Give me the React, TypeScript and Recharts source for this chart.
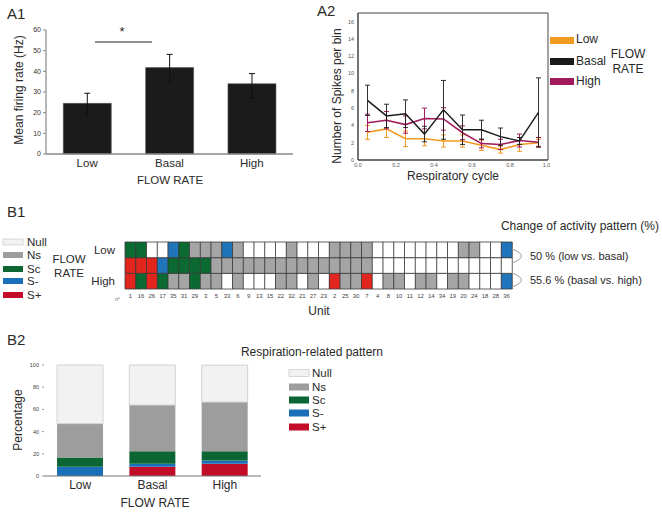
import React from 'react';
import { BarChart, Bar, XAxis, YAxis, ErrorBar, LineChart, Line, Cell, ReferenceArea } from 'recharts';

const FONT = '"Liberation Sans", Arial, Helvetica, sans-serif';
const TXT = '#2a2a2a';

// ---------- A1 ----------
const flowRates = ['Low', 'Basal', 'High'];
const meanRate = [24.5, 41.8, 34.0];
const meanRateErr: [number, number][] = [[6.0, 4.9], [7.1, 6.4], [6.8, 4.9]];
const a1Ticks = [0, 10, 20, 30, 40, 50, 60];

// ---------- A2 ----------
const cyclePos = [0.05, 0.15, 0.25, 0.35, 0.45, 0.55, 0.65, 0.75, 0.85, 0.95];
const lowSpikes = [3.2, 3.6, 2.45, 2.45, 2.2, 2.2, 1.7, 1.2, 1.8, 2.0];
const lowErr = [0.8, 1.0, 0.9, 0.8, 0.7, 0.7, 0.6, 0.4, 0.8, 0.4];
const basalSpikes = [6.9, 5.1, 5.35, 3.0, 5.8, 3.5, 3.5, 2.7, 2.2, 5.5];
const basalErr = [1.75, 1.35, 1.6, 0.9, 3.4, 1.7, 1.1, 1.0, 0.4, 4.0];
const highSpikes = [4.3, 4.6, 4.1, 4.8, 4.75, 3.15, 1.9, 1.8, 2.25, 2.05];
const highErr = [1.0, 1.0, 1.0, 1.2, 1.3, 0.8, 0.5, 0.6, 0.75, 0.55];
const a2YTicks = [0, 2, 4, 6, 8, 10, 12, 14, 16];
const a2XTicks = [0, 0.2, 0.4, 0.6, 0.8, 1.0];

// ---------- B1 ----------
const unitIds = [1, 16, 26, 17, 35, 31, 29, 3, 5, 33, 6, 9, 13, 15, 22, 32, 21, 27, 23, 2, 25, 30, 7, 4, 8, 10, 11, 12, 14, 34, 19, 20, 24, 18, 28, 36];
const lowPattern = ['Sc', 'Sc', 'Null', 'Null', 'S-', 'Sc', 'Ns', 'Ns', 'Ns', 'S-', 'Ns', 'Null', 'Null', 'Null', 'Null', 'Ns', 'Null', 'Null', 'Null', 'Ns', 'Ns', 'Ns', 'Ns', 'Null', 'Null', 'Null', 'Null', 'Null', 'Null', 'Null', 'Null', 'Ns', 'Ns', 'Null', 'Null', 'S-'];
const basalPattern = ['S+', 'S+', 'S+', 'S-', 'Sc', 'Sc', 'Sc', 'Sc', 'Ns', 'Ns', 'Ns', 'Ns', 'Ns', 'Ns', 'Ns', 'Ns', 'Ns', 'Ns', 'Ns', 'Ns', 'Ns', 'Ns', 'Ns', 'Null', 'Null', 'Null', 'Null', 'Null', 'Null', 'Null', 'Null', 'Null', 'Null', 'Null', 'Null', 'Null'];
const highPattern = ['S+', 'Sc', 'S+', 'Sc', 'Ns', 'Ns', 'Sc', 'Ns', 'Ns', 'Null', 'Ns', 'Null', 'Null', 'Null', 'Ns', 'Ns', 'Null', 'Ns', 'Null', 'S+', 'Ns', 'Ns', 'S+', 'Null', 'Ns', 'Ns', 'Null', 'Ns', 'Ns', 'Null', 'Ns', 'Ns', 'Null', 'Null', 'Null', 'S-'];
const rowLabels = ['High', 'Basal', 'Low'];

// ---------- B2 ----------
const pctSPlus = [0, 8.3, 11.1];
const pctSMinus = [8.3, 2.8, 2.8];
const pctSc = [8.3, 11.1, 8.3];
const pctNs = [30.6, 41.7, 44.4];
const pctNull = [52.8, 36.1, 33.3];
const b2Ticks = [0, 20, 40, 60, 80, 100];

const patternNames = ['Null', 'Ns', 'Sc', 'S-', 'S+'];
const gridColors: Record<string, string> = { Null: '#ffffff', Ns: '#a5a5a5', Sc: '#0b6a31', 'S-': '#1f74ba', 'S+': '#e2261e' };
const b2Colors: Record<string, string> = { Null: '#f2f2f2', Ns: '#9d9d9d', Sc: '#0b6634', 'S-': '#1a70b8', 'S+': '#c30d28' };

const a1Data = flowRates.map((r, i) => ({ rate: r, value: meanRate[i], err: meanRateErr[i] }));
const a2Data = cyclePos.map((x, i) => ({
  x,
  low: lowSpikes[i], lowE: lowErr[i],
  basal: basalSpikes[i], basalE: basalErr[i],
  high: highSpikes[i], highE: highErr[i],
}));
const b1Data = unitIds.map((u) => ({ unit: String(u), h: 1, b: 1, l: 1 }));
const b2Data = flowRates.map((r, i) => ({
  rate: r, sp: pctSPlus[i], sm: pctSMinus[i], sc: pctSc[i], ns: pctNs[i], nu: pctNull[i],
}));

const A2_LOW = '#f29a1f';
const A2_BASAL = '#1a1a1a';
const A2_HIGH = '#a0195a';

function T(props: any) {
  const { x, y, children, size = 12, anchor = 'start', rotate, fill = TXT } = props;
  return (
    <text
      x={x}
      y={y}
      fontSize={size}
      textAnchor={anchor}
      dominantBaseline="central"
      fill={fill}
      fontFamily={FONT}
      transform={rotate ? `rotate(${rotate}, ${x}, ${y})` : undefined}
    >
      {children}
    </text>
  );
}

export default function App() {
  return (
    <div style={{ position: 'absolute', left: 0, top: 0, width: 662, height: 513, background: '#fff', fontFamily: FONT, overflow: 'hidden' }}>
      {/* A1 */}
      <div style={{ position: 'absolute', left: 0, top: 0 }}>
        <BarChart width={300} height={195} data={a1Data} margin={{ top: 30, right: 7, bottom: 0, left: 0 }} barCategoryGap="21%">
          <XAxis xAxisId="edge" type="number" domain={[0, 3]} ticks={[0, 1, 2, 3]} tick={false} axisLine={false} tickLine={{ stroke: '#888' }} tickSize={4} height={0} />
          <XAxis xAxisId="cat" dataKey="rate" height={41} axisLine={{ stroke: '#888', strokeWidth: 1.5 }} tickLine={false} tickSize={0} tickMargin={5} tick={{ fontSize: 11.5, fill: TXT }} />
          <YAxis width={46} domain={[0, 60]} ticks={a1Ticks} tick={{ fontSize: 7, fill: '#333' }} tickSize={3} tickMargin={2} axisLine={{ stroke: '#888', strokeWidth: 1.2 }} tickLine={{ stroke: '#888' }} />
          <Bar xAxisId="cat" dataKey="value" fill="#1b1b1b" stroke="#555" strokeWidth={0.6} isAnimationActive={false}>
            <ErrorBar dataKey="err" width={3} stroke="#111" strokeWidth={1} direction="y" />
          </Bar>
        </BarChart>
      </div>

      {/* A2 */}
      <div style={{ position: 'absolute', left: 300, top: 0 }}>
        <LineChart width={250} height={190} data={a2Data} margin={{ top: 13, right: 2, bottom: 0, left: 0 }}>
          <XAxis dataKey="x" type="number" domain={[0, 1]} ticks={a2XTicks} tickFormatter={(v: number) => v.toFixed(1)} height={30} tick={{ fontSize: 5.5, fill: '#555' }} tickLine={false} tickSize={0} tickMargin={3} axisLine={{ stroke: '#444' }} />
          <YAxis width={58} domain={[0, 17]} ticks={a2YTicks} tick={{ fontSize: 5.5, fill: '#555' }} tickLine={false} tickSize={0} tickMargin={4} axisLine={{ stroke: '#444' }} />
          <ReferenceArea x1={0} x2={1} y1={0} y2={17} fill="none" stroke="#444" strokeWidth={1} ifOverflow="visible" />
          <Line dataKey="low" stroke={A2_LOW} strokeWidth={1.6} dot={false} isAnimationActive={false}>
            <ErrorBar dataKey="lowE" width={2.5} stroke={A2_LOW} strokeWidth={1} direction="y" />
          </Line>
          <Line dataKey="high" stroke={A2_HIGH} strokeWidth={1.6} dot={false} isAnimationActive={false}>
            <ErrorBar dataKey="highE" width={2.5} stroke={A2_HIGH} strokeWidth={1} direction="y" />
          </Line>
          <Line dataKey="basal" stroke={A2_BASAL} strokeWidth={1.4} dot={false} isAnimationActive={false}>
            <ErrorBar dataKey="basalE" width={2.5} stroke={A2_BASAL} strokeWidth={0.9} direction="y" />
          </Line>
        </LineChart>
      </div>

      {/* B1 */}
      <div style={{ position: 'absolute', left: 0, top: 236 }}>
        <BarChart width={520} height={70} data={b1Data} margin={{ top: 6, right: 8, bottom: 0, left: 0 }} barCategoryGap={0} barGap={0}>
          <XAxis dataKey="unit" interval={0} height={17} tick={{ fontSize: 6, fill: '#444' }} tickLine={false} axisLine={false} tickSize={0} tickMargin={5} />
          <YAxis width={125} type="number" domain={[0, 3]} ticks={[0.5, 1.5, 2.5]} tickFormatter={(v: number) => rowLabels[Math.floor(v)]} tick={{ fontSize: 11.5, fill: TXT }} axisLine={false} tickLine={false} tickSize={0} tickMargin={10} />
          <Bar dataKey="h" stackId="g" stroke="#3a3a3a" strokeWidth={0.8} isAnimationActive={false}>
            {highPattern.map((p, i) => <Cell key={i} fill={gridColors[p]} />)}
          </Bar>
          <Bar dataKey="b" stackId="g" stroke="#3a3a3a" strokeWidth={0.8} isAnimationActive={false}>
            {basalPattern.map((p, i) => <Cell key={i} fill={gridColors[p]} />)}
          </Bar>
          <Bar dataKey="l" stackId="g" stroke="#3a3a3a" strokeWidth={0.8} isAnimationActive={false}>
            {lowPattern.map((p, i) => <Cell key={i} fill={gridColors[p]} />)}
          </Bar>
        </BarChart>
      </div>

      {/* B2 */}
      <div style={{ position: 'absolute', left: 0, top: 340 }}>
        <BarChart width={270} height={170} data={b2Data} margin={{ top: 25, right: 9, bottom: 0, left: 0 }} barCategoryGap="18%">
          <XAxis dataKey="rate" height={34} tick={{ fontSize: 12, fill: TXT }} tickLine={false} tickSize={0} tickMargin={4} axisLine={{ stroke: '#777', strokeWidth: 1.2 }} />
          <YAxis width={44} domain={[0, 100]} ticks={b2Ticks} tick={{ fontSize: 5.5, fill: '#444' }} axisLine={false} tickLine={{ stroke: '#999' }} tickSize={2} tickMargin={3} />
          <Bar dataKey="sp" stackId="p" fill={b2Colors['S+']} isAnimationActive={false} />
          <Bar dataKey="sm" stackId="p" fill={b2Colors['S-']} isAnimationActive={false} />
          <Bar dataKey="sc" stackId="p" fill={b2Colors['Sc']} isAnimationActive={false} />
          <Bar dataKey="ns" stackId="p" fill={b2Colors['Ns']} isAnimationActive={false} />
          <Bar dataKey="nu" stackId="p" fill={b2Colors['Null']} stroke="#d2d2d2" strokeWidth={1} isAnimationActive={false} />
        </BarChart>
      </div>

      {/* annotations */}
      <svg width={662} height={513} style={{ position: 'absolute', left: 0, top: 0, pointerEvents: 'none' }}>
        {/* A1 */}
        <T x={7} y={13} size={15}>A1</T>
        <line x1={95} x2={152} y1={42} y2={42} stroke="#222" strokeWidth={1} />
        <T x={122} y={31} size={13} anchor="middle">*</T>
        <T x={19} y={90} size={12} anchor="middle" rotate={-90}>Mean firing rate (Hz)</T>
        <T x={170} y={180} size={11.5} anchor="middle">FLOW RATE</T>

        {/* A2 */}
        <T x={317} y={10} size={15}>A2</T>
        <T x={337} y={96} size={12} anchor="middle" rotate={-90}>Number of Spikes per bin</T>
        <T x={453} y={176} size={12} anchor="middle">Respiratory cycle</T>
        <rect x={550} y={37} width={24} height={7} fill={A2_LOW} />
        <T x={576} y={39} size={12}>Low</T>
        <rect x={550} y={58} width={24} height={7} fill={A2_BASAL} />
        <T x={576} y={61} size={12}>Basal</T>
        <rect x={550} y={78} width={24} height={7} fill={A2_HIGH} />
        <T x={576} y={81} size={12}>High</T>
        <T x={628} y={54} size={12} anchor="middle">FLOW</T>
        <T x={628} y={69} size={12} anchor="middle">RATE</T>

        {/* B1 */}
        <T x={7} y={211} size={15}>B1</T>
        {patternNames.map((p, i) => {
          const ys = [242, 255, 269, 281, 295][i];
          return (
            <g key={p}>
              <rect x={3} y={ys - 3} width={20} height={6} fill={b2Colors[p]} stroke={p === 'Null' ? '#d0d0d0' : 'none'} strokeWidth={0.8} />
              <T x={27} y={ys} size={11.5}>{p}</T>
            </g>
          );
        })}
        <T x={69} y={259} size={11.5} anchor="middle">FLOW</T>
        <T x={69} y={273} size={11.5} anchor="middle">RATE</T>
        <T x={120} y={298.5} size={5} anchor="end" fill="#555">n°</T>
        <T x={319} y={311} size={12} anchor="middle">Unit</T>
        <T x={659} y={226} size={12} anchor="end">Change of activity pattern (%)</T>
        <path d="M512,249 Q531,256 512,263" fill="none" stroke="#999" strokeWidth={1} />
        <path d="M512,273 Q531,280 512,287" fill="none" stroke="#999" strokeWidth={1} />
        <T x={530} y={256} size={11}>50 % (low vs. basal)</T>
        <T x={530} y={280} size={11}>55.6 % (basal vs. high)</T>

        {/* B2 */}
        <T x={7} y={339} size={15}>B2</T>
        <T x={312} y={352} size={12} anchor="middle">Respiration-related pattern</T>
        <T x={18} y={420} size={12} anchor="middle" rotate={-90}>Percentage</T>
        <T x={155} y={503} size={12} anchor="middle">FLOW RATE</T>
        {patternNames.map((p, i) => {
          const ys = [373, 387, 400, 413, 427][i];
          return (
            <g key={p}>
              <rect x={289} y={ys - 3.5} width={20} height={7} fill={b2Colors[p]} stroke={p === 'Null' ? '#d0d0d0' : 'none'} strokeWidth={0.8} />
              <T x={312} y={ys} size={11.5}>{p}</T>
            </g>
          );
        })}
      </svg>
    </div>
  );
}
